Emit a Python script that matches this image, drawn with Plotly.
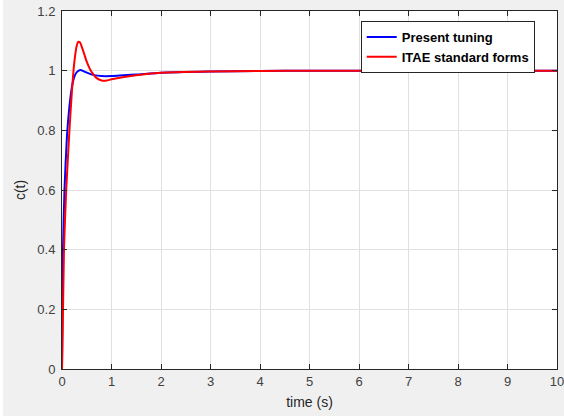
import plotly.graph_objects as go

# Present tuning (blue)
t_blue = [0, 0.02, 0.05, 0.1, 0.15, 0.2, 0.25, 0.3, 0.37, 0.45, 0.55, 0.65, 0.8, 1.0, 1.5, 2.0, 3.0, 4.0, 5.0, 6.0, 8.0, 10.0]
c_blue = [0, 0.40, 0.60, 0.78, 0.88, 0.945, 0.98, 0.995, 1.002, 0.997, 0.99, 0.985, 0.982, 0.982, 0.987, 0.993, 0.997, 0.999, 1.0, 1.0, 1.0, 1.0]

# ITAE standard forms (red)
t_red = [0, 0.04, 0.085, 0.15, 0.2, 0.25, 0.3, 0.33, 0.36, 0.4, 0.45, 0.5, 0.55, 0.6, 0.7, 0.8, 0.9, 1.0, 1.5, 2.0, 3.0, 4.0, 5.0, 6.0, 8.0, 10.0]
c_red = [0, 0.40, 0.60, 0.80, 0.93, 1.03, 1.085, 1.097, 1.095, 1.08, 1.055, 1.03, 1.01, 0.995, 0.975, 0.967, 0.967, 0.971, 0.985, 0.993, 0.997, 0.999, 1.0, 1.0, 1.0, 1.0]

series_names = ["Present tuning", "ITAE standard forms"]
x_ticks = [0, 1, 2, 3, 4, 5, 6, 7, 8, 9, 10]
y_ticks = [0, 0.2, 0.4, 0.6, 0.8, 1, 1.2]
y_tick_labels = ["0", "0.2", "0.4", "0.6", "0.8", "1", "1.2"]

FONT = "Liberation Sans, Arial, sans-serif"

fig = go.Figure()
fig.add_trace(go.Scatter(x=t_blue, y=c_blue, mode="lines", name=series_names[0],
                         line=dict(color="#0000ff", width=2, shape="spline", smoothing=0.6)))
fig.add_trace(go.Scatter(x=t_red, y=c_red, mode="lines", name=series_names[1],
                         line=dict(color="#ff0000", width=2, shape="spline", smoothing=0.6)))

axis_common = dict(
    showline=True, mirror="ticks", linecolor="#262626", linewidth=1,
    ticks="inside", ticklen=5, tickcolor="#262626",
    showgrid=True, gridcolor="#e0e0e0", gridwidth=1,
    zeroline=False, automargin=False, ticklabeloverflow="allow",
    tickfont=dict(family=FONT, size=13, color="#404040"),
)

fig.update_xaxes(range=[0, 10], tickvals=x_ticks, ticklabelstandoff=0,
                 title=dict(text="time (s)", font=dict(family=FONT, size=14, color="#262626"), standoff=9),
                 **axis_common)
fig.update_yaxes(range=[0, 1.2], tickvals=y_ticks, ticktext=y_tick_labels, ticklabelstandoff=3,
                 title=dict(text="c(t)", font=dict(family=FONT, size=14, color="#262626"), standoff=8),
                 **axis_common)

fig.update_layout(
    width=564, height=416,
    margin=dict(l=62, r=7, t=11, b=47),
    paper_bgcolor="#f0f0f0", plot_bgcolor="#ffffff",
    showlegend=True,
    legend=dict(x=0.955, y=0.972, xanchor="right", yanchor="top",
                bgcolor="#ffffff", bordercolor="#262626", borderwidth=1,
                font=dict(family=FONT, size=13, color="#000000", weight="bold"),
                tracegroupgap=0, itemwidth=30),
    shapes=[dict(type="rect", xref="paper", yref="paper", x0=-0.127, x1=-0.119, y0=-0.2, y1=1.1,
                 fillcolor="#ffffff", line=dict(width=0), layer="below")],
)

fig.write_html("out.html", config={"displayModeBar": False},
               post_script="document.body.style.margin='0';document.body.style.padding='0';document.body.style.overflow='hidden';")
